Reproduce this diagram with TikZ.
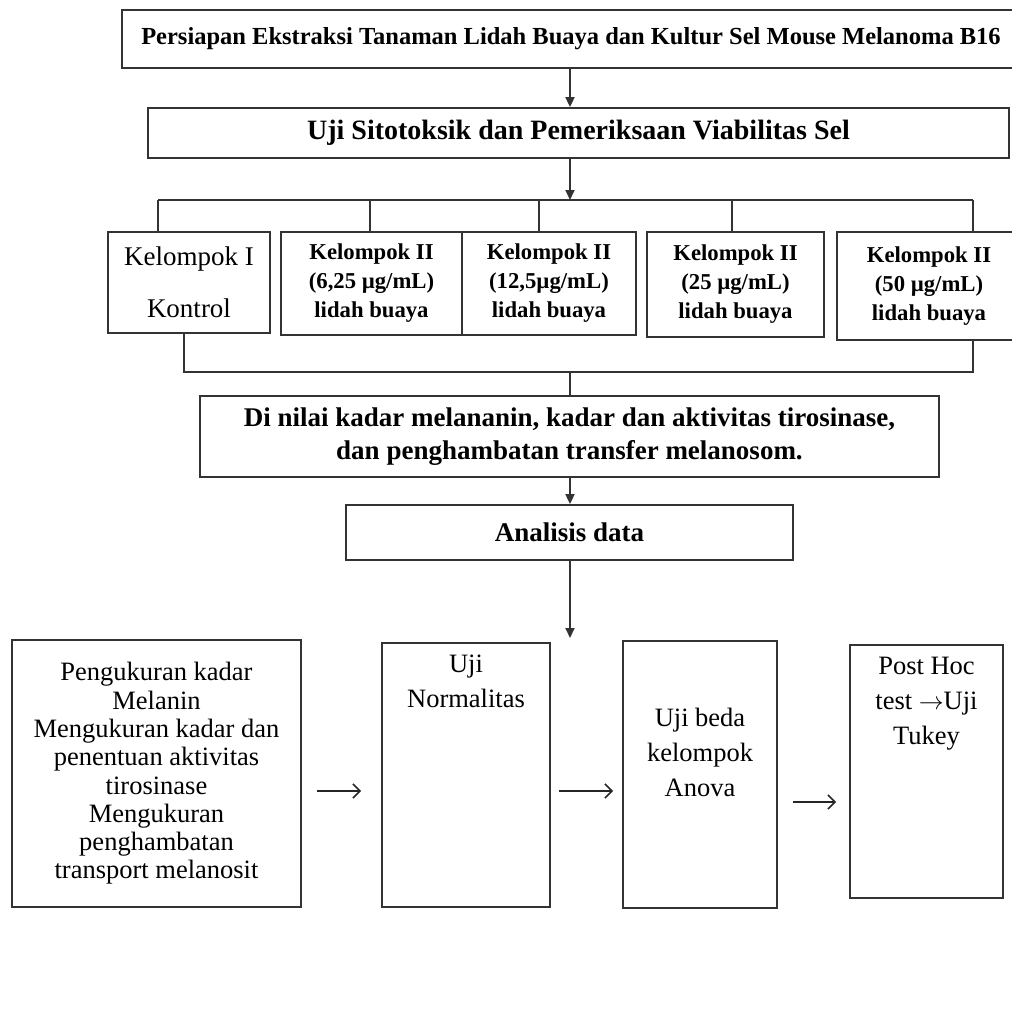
\documentclass[tikz,border=0pt]{standalone}
\usepackage{fontspec}
\setmainfont{Liberation Serif}
\usetikzlibrary{arrows.meta, positioning}

\tikzset{
  box/.style={draw=black!80, line width=1.8pt, inner sep=0pt, align=center},
  wire/.style={draw=black!80, line width=1.8pt},
  arrdown/.style={wire, -{Triangle[length=10pt,width=9pt]}},
  arrright/.style={draw=black!85, line width=1.6pt, -{Straight Barb[length=7pt,width=14pt]}},
  bold/.style={font=\bfseries\fontsize{22.7}{29}\selectfont},
  plain/.style={font=\fontsize{26.5}{35}\selectfont, align=center, inner sep=0pt},
}

\begin{document}
\begin{tikzpicture}[x=1pt, y=-1pt]
    \clip (0,0) rectangle (1012,1021);
    \coordinate (spine) at (570,0);

    % top of the chart
    \node[box, minimum width=898pt, minimum height=58pt, font=\bfseries\fontsize{24.5}{29}\selectfont] (prep) at (571,39)
        {Persiapan Ekstraksi Tanaman Lidah Buaya dan Kultur Sel Mouse Melanoma B16};
    \node[box, minimum width=861pt, minimum height=50pt, font=\bfseries\fontsize{28}{33}\selectfont] (sito) at (578.5,133)
        {Uji Sitotoksik dan Pemeriksaan Viabilitas Sel};

    % groups
    \node[box, minimum width=162pt, minimum height=101pt, font=\fontsize{27}{52}\selectfont] (k1) at (189,282.5)
        {Kelompok I\\Kontrol};
    \node[box, bold, minimum width=181pt, minimum height=103pt] (k2) at (371.5,283.5)
        {Kelompok II\\(6,25 µg/mL)\\lidah buaya};
    \node[box, bold, minimum width=174pt, minimum height=103pt] (k3) at (549,283.5)
        {Kelompok II\\(12,5µg/mL)\\lidah buaya};
    \node[box, bold, minimum width=177pt, minimum height=105pt] (k4) at (735.5,284.5)
        {Kelompok II\\(25 µg/mL)\\lidah buaya};
    \node[box, bold, minimum width=184pt, minimum height=108pt] (k5) at (929,286)
        {Kelompok II\\(50 µg/mL)\\lidah buaya};

    \node[box, minimum width=739pt, minimum height=81pt, font=\bfseries\fontsize{27}{33}\selectfont] (nilai) at (569.5,436.5)
        {Di nilai kadar melananin, kadar dan aktivitas tirosinase,\\dan penghambatan transfer melanosom.};
    \node[box, minimum width=447pt, minimum height=55pt, font=\bfseries\fontsize{27}{33}\selectfont] (ana) at (569.5,532.5)
        {Analisis data};

    % analysis steps
    \node[box, minimum width=289pt, minimum height=267pt, font=\fontsize{26.5}{28.3}\selectfont] (peng) at (156.5,773.5)
        {Pengukuran kadar\\Melanin\\Mengukuran kadar dan\\penentuan aktivitas\\tirosinase\\Mengukuran\\penghambatan\\transport melanosit};
    \node[box, minimum width=168pt, minimum height=264pt] (norm) at (466,775) {};
    \node[plain, below=13pt of norm.north] (normtxt) {Uji\\Normalitas};
    \node[box, minimum width=154pt, minimum height=267pt] (beda) at (700,774.5) {};
    \node[plain, below=68pt of beda.north] (bedatxt) {Uji beda\\kelompok\\Anova};
    \node[box, minimum width=153pt, minimum height=253pt] (post) at (926.5,771.5) {};
    \node[plain, below=13pt of post.north] (posttxt) {Post Hoc\\test $\rightarrow$Uji\\Tukey};

    % connectors
    \draw[arrdown] (prep.south -| spine) -- (sito.north -| spine);
    \draw[arrdown] (sito.south -| spine) -- (spine |- 0,200);
    \draw[wire] (158,200) -- (973,200);
    \foreach \x/\k in {158/k1, 370/k2, 539/k3, 732/k4, 973/k5}
        \draw[wire] (\x,200) -- (\k.north -| \x,0);
    \draw[wire] (k1.south -| 184,0) |- (973,372) -- (k5.south -| 973,0);
    \draw[wire] (spine |- 0,372) -- (nilai.north -| spine);
    \draw[arrdown] (nilai.south -| spine) -- (ana.north -| spine);
    \coordinate (tip) at (570,638);
    \draw[arrdown] (ana.south -| spine) -- (tip);

    \draw[arrright, shorten <=15pt, shorten >=20pt] ([yshift=-17.5pt]peng.east) -- ([yshift=-17.5pt]peng.east -| norm.west);
    \draw[arrright, shorten <=8pt, shorten >=9pt] ([yshift=-16pt]norm.east) -- ([yshift=-16pt]norm.east -| beda.west);
    \draw[arrright, shorten <=15pt, shorten >=13pt] ([yshift=-27.5pt]beda.east) -- ([yshift=-27.5pt]beda.east -| post.west);
\end{tikzpicture}
\end{document}
